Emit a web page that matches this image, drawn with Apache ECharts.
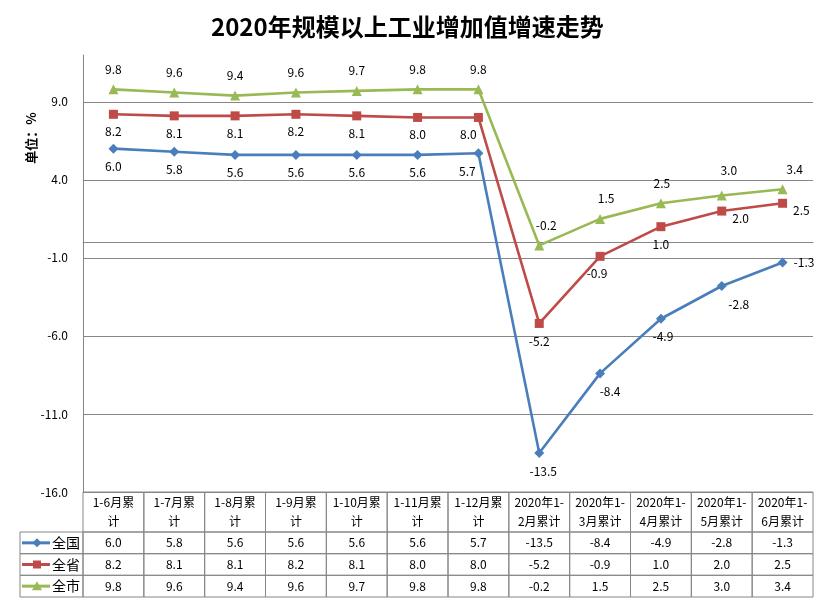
<!DOCTYPE html>
<html lang="zh-CN">
<head>
    <meta charset="UTF-8">
    <title>2020年规模以上工业增加值增速走势</title>
    <script src="https://cdn.jsdelivr.net/npm/echarts@6/dist/echarts.min.js"></script>
    <style>
        html, body { margin: 0; padding: 0; background: #fff; }
        #main { width: 828px; height: 602px; }
    </style>
</head>
<body>
<div id="main"></div>
<script>
    // 表头（已按表格宽度换行）
    const categories = ['1-6月累\n计', '1-7月累\n计', '1-8月累\n计', '1-9月累\n计', '1-10月累\n计', '1-11月累\n计',
        '1-12月累\n计', '2020年1-\n2月累计', '2020年1-\n3月累计', '2020年1-\n4月累计', '2020年1-\n5月累计', '2020年1-\n6月累计'];
    const seriesNames = ['全国', '全省', '全市'];
    const nation = [6.0, 5.8, 5.6, 5.6, 5.6, 5.6, 5.7, -13.5, -8.4, -4.9, -2.8, -1.3];
    const province = [8.2, 8.1, 8.1, 8.2, 8.1, 8.0, 8.0, -5.2, -0.9, 1.0, 2.0, 2.5];
    const city = [9.8, 9.6, 9.4, 9.6, 9.7, 9.8, 9.8, -0.2, 1.5, 2.5, 3.0, 3.4];
    const yTicks = [-16, -11, -6, -1, 4, 9];

    const seriesData = [nation, province, city];
    const colors = ['#4A7EBB', '#BE4B48', '#98B954'];
    const symbols = ['diamond', 'rect', 'triangle'];
    const font = '"Noto Sans CJK SC", sans-serif';
    const gridColor = '#868686';

    // 表格行的上下边（像素高度，表头两行字）
    const rowEdges = [0, 40, 61.7, 83.3, 105];

    // 标签横向微调（像素），'r' 表示放在点右侧
    const labelShift = [
        [0, 0, 0, 0, 0, 0, -11, 4, 10, 2, 17, 'r'],
        [0, 0, 0, 0, 0, 0, -10, 0, -3, 0, 'r', 'r'],
        [0, 0, 0, 0, 0, 0, 0, 7, 6, 1, 7, 12]
    ];

    let myChart = echarts.init(document.getElementById('main'));

    // 每个点的数据标签位置
    function labelFor(s, i) {
        let k = labelShift[s][i];
        if (k === 'r') return { position: 'right', distance: 6, offset: [0, s === 1 ? 7 : 0] };
        if (s === 2) return { position: 'top', distance: (i === 10 ? 14 : 9), offset: [k, 0] };
        return { position: 'bottom', distance: 7, offset: [k, 0] };
    }

    // 图例小图标
    function legendIcon(s, cx, cy) {
        let line = { type: 'line', shape: { x1: cx - 15, y1: cy, x2: cx + 13, y2: cy },
            style: { stroke: colors[s], lineWidth: 3 } };
        let mark;
        if (s === 0) {
            mark = { type: 'polygon', shape: { points: [[cx, cy - 4.5], [cx + 4.5, cy], [cx, cy + 4.5], [cx - 4.5, cy]] } };
        } else if (s === 1) {
            mark = { type: 'rect', shape: { x: cx - 4, y: cy - 4, width: 8, height: 8 } };
        } else {
            mark = { type: 'polygon', shape: { points: [[cx, cy - 5], [cx + 5, cy + 4], [cx - 5, cy + 4]] } };
        }
        mark.style = { fill: colors[s] };
        return [line, mark];
    }

    function renderCell(params, api) {
        let c = api.value(0), r = api.value(1);
        let cx = api.coord([c, 0])[0];
        let w = api.size([1, 0])[0];
        let y0 = api.coord([0, rowEdges[r]])[1];
        let y1 = api.coord([0, rowEdges[r + 1]])[1];
        let text = r === 0 ? categories[c] : seriesData[r - 1][c].toFixed(1);
        let children = [
            { type: 'rect', shape: { x: cx - w / 2, y: y0, width: w, height: y1 - y0 },
                style: { fill: 'none', stroke: gridColor, lineWidth: 1 } },
            { type: 'text', style: { text: text, x: cx, y: (y0 + y1) / 2, align: 'center', verticalAlign: 'middle',
                    font: '12px ' + font, fill: '#000', lineHeight: 19 } }
        ];
        if (c === 0 && r > 0) {
            let left = 20, right = cx - w / 2, cy = (y0 + y1) / 2;
            children.push({ type: 'rect', shape: { x: left, y: y0, width: right - left, height: y1 - y0 },
                style: { fill: 'none', stroke: gridColor, lineWidth: 1 } });
            children = children.concat(legendIcon(r - 1, left + 17, cy));
            children.push({ type: 'text', style: { text: seriesNames[r - 1], x: left + 32, y: cy, align: 'left',
                    verticalAlign: 'middle', font: '14px ' + font, fill: '#000' } });
        }
        return { type: 'group', children: children };
    }

    let cells = [];
    for (let r = 0; r < 4; r++) {
        for (let c = 0; c < categories.length; c++) cells.push([c, r]);
    }

    let lineSeries = seriesNames.map(function (name, s) {
        return {
            name: name,
            type: 'line',
            data: seriesData[s].map(function (v, i) { return { value: v, label: labelFor(s, i) }; }),
            symbol: symbols[s],
            symbolSize: s === 1 ? 9 : 10,
            lineStyle: { color: colors[s], width: 2.6 },
            itemStyle: { color: colors[s] },
            label: { show: true, color: '#000', fontSize: 12, fontFamily: font,
                formatter: function (p) { return p.value.toFixed(1); } },
            z: 3 + s
        };
    });

    let option = {
        animation: false,
        backgroundColor: '#fff',
        title: {
            text: '2020年规模以上工业增加值增速走势',
            left: 206,
            top: 10,
            textStyle: { fontSize: 24, fontWeight: 'bold', color: '#000', fontFamily: font }
        },
        graphic: [{
            type: 'text', x: 31, y: 138, rotation: Math.PI / 2,
            style: { text: '单位：%', align: 'center', verticalAlign: 'middle',
                font: 'bold 13px ' + font, fill: '#000' }
        }],
        grid: [
            { left: 83, right: 15, top: 55, bottom: 110 },
            { left: 83, right: 15, top: 492, height: 105 }
        ],
        xAxis: [
            { type: 'category', gridIndex: 0, data: categories, boundaryGap: true,
                axisLine: { onZero: true, lineStyle: { color: gridColor, width: 1 } },
                axisTick: { show: false }, axisLabel: { show: false } },
            { type: 'category', gridIndex: 1, data: categories, boundaryGap: true,
                axisLine: { show: false }, axisTick: { show: false }, axisLabel: { show: false } }
        ],
        yAxis: [
            { type: 'value', gridIndex: 0, min: yTicks[0], max: 12, interval: 5,
                axisLine: { show: true, lineStyle: { color: gridColor } },
                axisTick: { show: false },
                axisLabel: { showMaxLabel: false, margin: 15, color: '#000', fontSize: 12, fontFamily: font,
                    formatter: function (v) { return v.toFixed(1); } },
                splitLine: { showMaxLine: false, lineStyle: { color: gridColor, width: 1 } } },
            { type: 'value', gridIndex: 1, min: 0, max: 105, inverse: true, show: false }
        ],
        series: lineSeries.concat([{
            type: 'custom',
            xAxisIndex: 1,
            yAxisIndex: 1,
            coordinateSystem: 'cartesian2d',
            data: cells,
            renderItem: renderCell,
            clip: false,
            silent: true
        }])
    };
    myChart.setOption(option);
</script>
</body>
</html>
